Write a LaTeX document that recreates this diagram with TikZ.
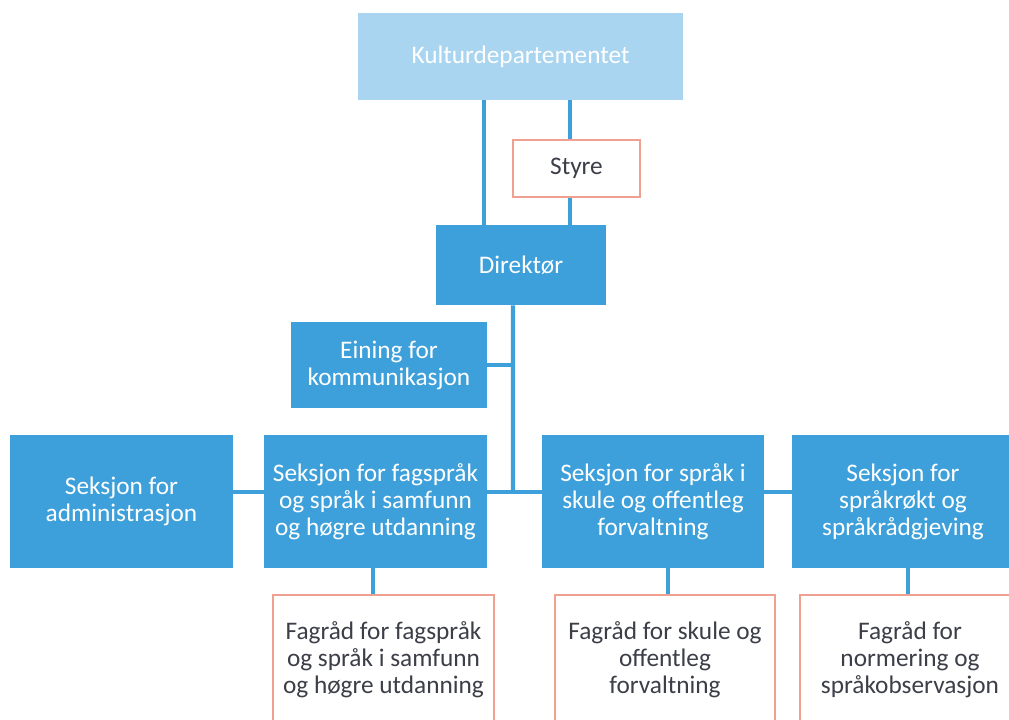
\documentclass[tikz,border=0pt]{standalone}
\usepackage{fontspec}
\setmainfont{Carlito}
\usepackage{tikz}
\usetikzlibrary{calc, positioning}

\definecolor{blaa}{RGB}{62,160,218}
\definecolor{lyseblaa}{RGB}{170,213,240}
\definecolor{laks}{RGB}{240,160,145}
\definecolor{tekst}{RGB}{60,62,72}

\tikzset{
    eining/.style={fill=blaa, text=white, align=center, inner sep=0pt,
        font=\fontsize{14.4}{15.4}\selectfont},
    raad/.style={draw=laks, line width=1.2pt, fill=white, text=tekst, align=center,
        inner sep=0pt, font=\fontsize{14.4}{15.4}\selectfont},
    linje/.style={draw=blaa, line width=2.3pt}
}

\begin{document}
\begin{tikzpicture}[x=0.02cm, y=-0.02cm]
        \useasboundingbox (0,0) rectangle (1009,720);
        \clip (0,0) rectangle (1009,720);

        \node[eining, fill=lyseblaa, minimum width=6.5cm, minimum height=1.74cm] (kd) at (520.5,56.5) {Kulturdepartementet};
        \node[raad, minimum width=2.54cm, minimum height=1.14cm] (styre) at (576.5,168.5) {Styre};
        \node[eining, minimum width=3.4cm, minimum height=1.6cm] (dir) at (521,265) {Direktør};
        \node[eining, minimum width=3.92cm, minimum height=1.72cm] (komm) at (389,365) {Eining for\\kommunikasjon};

        \node[eining, minimum width=4.46cm, minimum height=2.66cm] (adm) at (121.5,501.5) {Seksjon for\\administrasjon};
        \node[eining, minimum width=4.46cm, minimum height=2.66cm] (fag) at (375.5,501.5) {Seksjon for fagspråk\\og språk i samfunn\\og høgre utdanning};
        \node[eining, minimum width=4.44cm, minimum height=2.66cm] (skule) at (653,501.5) {Seksjon for språk i\\skule og offentleg\\forvaltning};
        \node[eining, minimum width=4.44cm, minimum height=2.66cm] (rokt) at (903,501.5) {Seksjon for\\språkrøkt og\\språkrådgjeving};

        \node[raad, minimum width=4.42cm, minimum height=2.6cm] (fr1) at (383.5,660) {Fagråd for fagspråk\\og språk i samfunn\\og høgre utdanning};
        \node[raad, minimum width=4.4cm, minimum height=2.6cm] (fr2) at (665,660) {Fagråd for skule og\\offentleg\\forvaltning};
        \node[raad, minimum width=4.4cm, minimum height=2.6cm] (fr3) at (910,660) {Fagråd for\\normering og\\språkobservasjon};

        \coordinate (hub) at (513,492);

        % linjer
        \draw[linje] ([xshift=-0.73cm]kd.south) -- ([xshift=-0.73cm]kd.south |- dir.north);
        \draw[linje] ([xshift=-0.13cm]kd.south -| styre.north) -- ([xshift=-0.13cm]styre.north);
        \draw[linje] ([xshift=-0.13cm]styre.south) -- ([xshift=-0.13cm]styre.south |- dir.north);
        \draw[linje] ([xshift=-0.16cm]dir.south) -- (hub);
        \draw[linje] (komm.east) -- (komm.east -| hub);
        \draw[linje] (adm.east |- hub) -- (fag.west |- hub);
        \draw[linje] (fag.east |- hub) -- (skule.west |- hub);
        \draw[linje] (skule.east |- hub) -- (rokt.west |- hub);
        \draw[linje] ([xshift=-0.05cm]fag.south) -- ([xshift=-0.05cm]fag.south |- fr1.north);
        \draw[linje] ([xshift=0.3cm]skule.south) -- ([xshift=0.3cm]skule.south |- fr2.north);
        \draw[linje] ([xshift=0.1cm]rokt.south) -- ([xshift=0.1cm]rokt.south |- fr3.north);
    \end{tikzpicture}
\end{document}
